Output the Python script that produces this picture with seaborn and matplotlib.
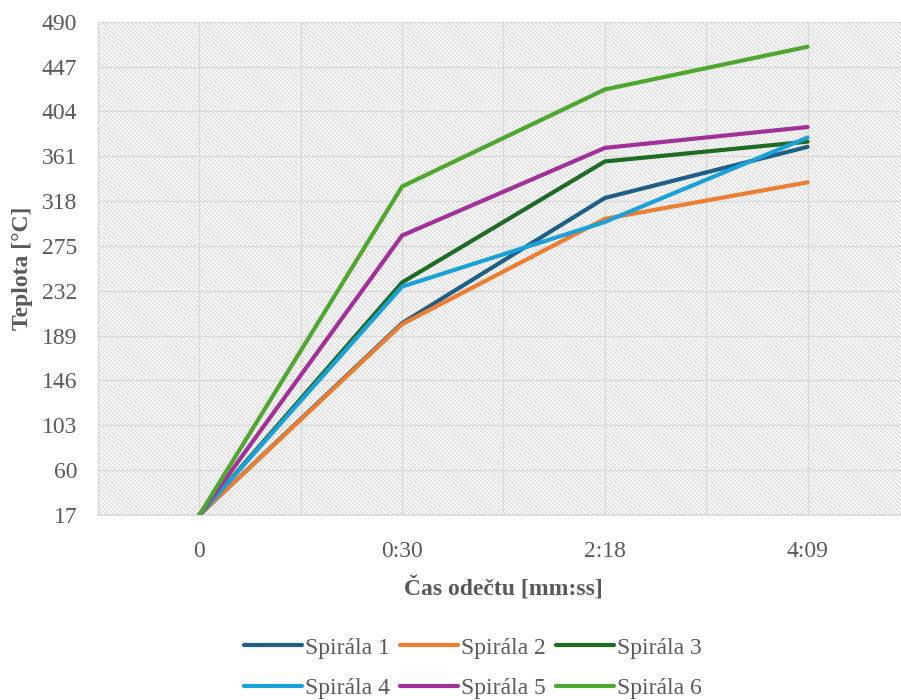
import pandas as pd
import matplotlib
matplotlib.use("Agg")
import matplotlib.pyplot as plt
import seaborn as sns
from matplotlib.patches import Rectangle

# Data
times = ["0", "0:30", "2:18", "4:09"]
series_names = ["Spirála 1", "Spirála 2", "Spirála 3", "Spirála 4", "Spirála 5", "Spirála 6"]
spirala_1 = [17, 201, 321, 370]
spirala_2 = [17, 200, 301, 336]
spirala_3 = [17, 240, 356, 375]
spirala_4 = [17, 236, 298, 379]
spirala_5 = [17, 285, 369, 389]
spirala_6 = [17, 332, 425, 466]
y_ticks = [17, 60, 103, 146, 189, 232, 275, 318, 361, 404, 447, 490]

colors = ["#1d5f86", "#ed7d31", "#1e6b24", "#1aa1d9", "#a2309a", "#4ea72e"]

rows = []
for name, vals in zip(series_names, [spirala_1, spirala_2, spirala_3, spirala_4, spirala_5, spirala_6]):
    for t, v in zip(times, vals):
        rows.append({"Čas": t, "Teplota": v, "Série": name})
df = pd.DataFrame(rows)

sns.set_style("white")
plt.rcParams["font.family"] = ["Liberation Serif", "DejaVu Serif"]
plt.rcParams["hatch.linewidth"] = 0.9
plt.rcParams["hatch.color"] = "#dadada"

grey = "#595959"
fs = 17
fig = plt.figure(figsize=(9.01, 7.0), dpi=100)
ax = fig.add_axes([98 / 901, 1 - 515 / 700, 811 / 901, (515 - 21.7) / 700])

# hatched plot background
bg = Rectangle((0, 0), 1, 1, transform=ax.transAxes, facecolor="white",
               edgecolor="#dadada", hatch="\\\\\\\\\\\\\\\\", linewidth=0, zorder=0)
ax.add_patch(bg)

sns.lineplot(data=df, x="Čas", y="Teplota", hue="Série", palette=colors,
             linewidth=3.0, ax=ax, legend=True, zorder=3)

ax.set_xlim(-0.5, len(times) - 0.5)
ax.set_ylim(y_ticks[0], y_ticks[-1])
ax.set_yticks(y_ticks)
ax.set_xticks(range(len(times)))
ax.set_xticklabels(times)
ax.set_xticks([i + 0.5 for i in range(-1, len(times))], minor=True)

ax.grid(True, which="major", color="#d9d9d9", linewidth=1.0, zorder=1)
ax.grid(True, which="minor", axis="x", color="#d9d9d9", linewidth=1.0, zorder=1)
ax.set_axisbelow(True)

for s in ["top", "right", "left"]:
    ax.spines[s].set_visible(False)
ax.spines["bottom"].set_color("#d9d9d9")
ax.spines["bottom"].set_linewidth(1.2)

ax.tick_params(axis="both", which="both", length=0, labelsize=fs, colors=grey)
ax.tick_params(axis="y", pad=15)
ax.tick_params(axis="x", pad=19)

ax.set_xlabel("Čas odečtu [mm:ss]", fontsize=fs, fontweight="bold", color=grey, labelpad=10)
ax.set_ylabel("Teplota [°C]", fontsize=fs, fontweight="bold", color=grey, labelpad=6)

handles, labels = ax.get_legend_handles_labels()
ax.get_legend().remove()
# reorder so the legend reads row by row
order = [0, 3, 1, 4, 2, 5]
leg = fig.legend([handles[i] for i in order], [labels[i] for i in order],
                 loc="center", bbox_to_anchor=(473 / 901, 1 - 668 / 700),
                 ncol=3, frameon=False, fontsize=fs, handlelength=2.45,
                 handletextpad=0.12, columnspacing=0.45, labelspacing=0.8)
for t in leg.get_texts():
    t.set_color(grey)

fig.savefig("out.png", dpi=100)
